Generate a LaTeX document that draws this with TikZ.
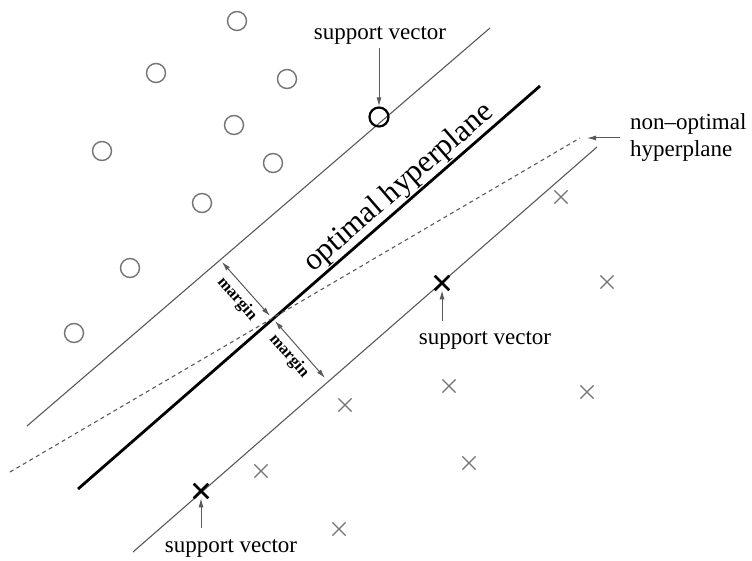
\documentclass[tikz,border=0pt]{standalone}
\usepackage{fontspec}
\setmainfont{Liberation Serif}
\usetikzlibrary{arrows.meta,shapes.misc}
\definecolor{thinc}{gray}{0.35}
\definecolor{ptc}{gray}{0.45}
\tikzset{
  thinline/.style={draw=thinc,line width=1.1pt},
  thickline/.style={draw=black,line width=2.8pt},
  dashline/.style={draw=thinc,line width=1.1pt,dash pattern=on 4pt off 3.5pt},
  circpt/.style={circle,draw=ptc,line width=1.4pt,minimum size=19pt,inner sep=0pt},
  circsv/.style={circle,draw=black,line width=2.2pt,minimum size=19pt,inner sep=0pt},
  crosspt/.style={cross out,draw=ptc,line width=1.1pt,minimum size=12pt,inner sep=0pt},
  crosssv/.style={cross out,draw=black,line width=2.6pt,minimum size=12pt,inner sep=0pt},
  arr/.style={draw=thinc,line width=1pt,-{Latex[length=9pt,width=5pt]}},
  darr/.style={draw=thinc,line width=1pt,{Latex[length=9pt,width=5pt]}-{Latex[length=9pt,width=5pt]}},
  lbl/.style={inner sep=0pt,font=\fontsize{23}{27}\selectfont},
  mlbl/.style={inner sep=0pt,font=\fontsize{16.5}{18}\selectfont\bfseries},
}
\begin{document}
\begin{tikzpicture}[x=1pt,y=-1pt]
\useasboundingbox (0,0) rectangle (752,561);
% line end points
\coordinate (u1) at (27,426);
\coordinate (u2) at (490,28);
\coordinate (t1) at (78,489);
\coordinate (t2) at (540,86);
\coordinate (l1) at (133,552);
\coordinate (l2) at (597,147);
\coordinate (d1) at (10,472);
\coordinate (d2) at (580,138);
\draw[thinline] (u1) -- (u2);
\draw[thickline] (t1) -- (t2);
\draw[thinline] (l1) -- (l2);
\draw[dashline] (d1) -- (d2);
% circles
\node[circpt] (c1) at (237,21) {};
\node[circpt] (c2) at (156,73) {};
\node[circpt] (c3) at (287,79) {};
\node[circpt] (c4) at (234,125) {};
\node[circpt] (c5) at (102,151) {};
\node[circpt] (c6) at (273,163) {};
\node[circpt] (c7) at (202,203) {};
\node[circpt] (c8) at (130,268) {};
\node[circpt] (c9) at (74,333) {};
\node[circsv] (cs) at (379,117) {};
% crosses
\node[crosspt] (x1) at (561,197) {};
\node[crosspt] (x2) at (607,282) {};
\node[crosspt] (x3) at (449,386) {};
\node[crosspt] (x4) at (587,392) {};
\node[crosspt] (x5) at (345,405) {};
\node[crosspt] (x6) at (469,463) {};
\node[crosspt] (x7) at (261,471) {};
\node[crosspt] (x8) at (339,529) {};
\node[crosssv] (xs1) at (442,283) {};
\node[crosssv] (xs2) at (201,491) {};
% support vector labels
\node[lbl] (sv1) at (380,35) {support vector};
\node[lbl] (sv2) at (485,340) {support vector};
\node[lbl] (sv3) at (231,548) {support vector};
\coordinate (a1) at (379,48);
\coordinate (a2) at (442,321);
\coordinate (a3) at (201,528);
\draw[arr] (a1) -- (cs);
\draw[arr] (a2) -- (xs1);
\draw[arr] (a3) -- (xs2);
% non-optimal label
\node[lbl,anchor=west,align=left] (no) at (630,138) {non--optimal\\hyperplane};
\coordinate (na) at (620,138);
\coordinate (nb) at (587,138);
\draw[arr] (na) -- (nb);
% optimal hyperplane label
\node[inner sep=0pt,font=\fontsize{31}{35}\selectfont,rotate=41] (opt) at (399,188) {optimal hyperplane};
% margins
\coordinate (X) at (272,318);
\coordinate (Xu) at (270,316);
\coordinate (Xl) at (275,321);
\coordinate (mu) at (222,262);
\coordinate (ml) at (325,378);
\draw[darr] (Xu) -- (mu);
\draw[darr] (Xl) -- (ml);
\node[mlbl,rotate=-49] (m1) at (237,299) {margin};
\node[mlbl,rotate=-49] (m2) at (289,356) {margin};
\end{tikzpicture}
\end{document}
